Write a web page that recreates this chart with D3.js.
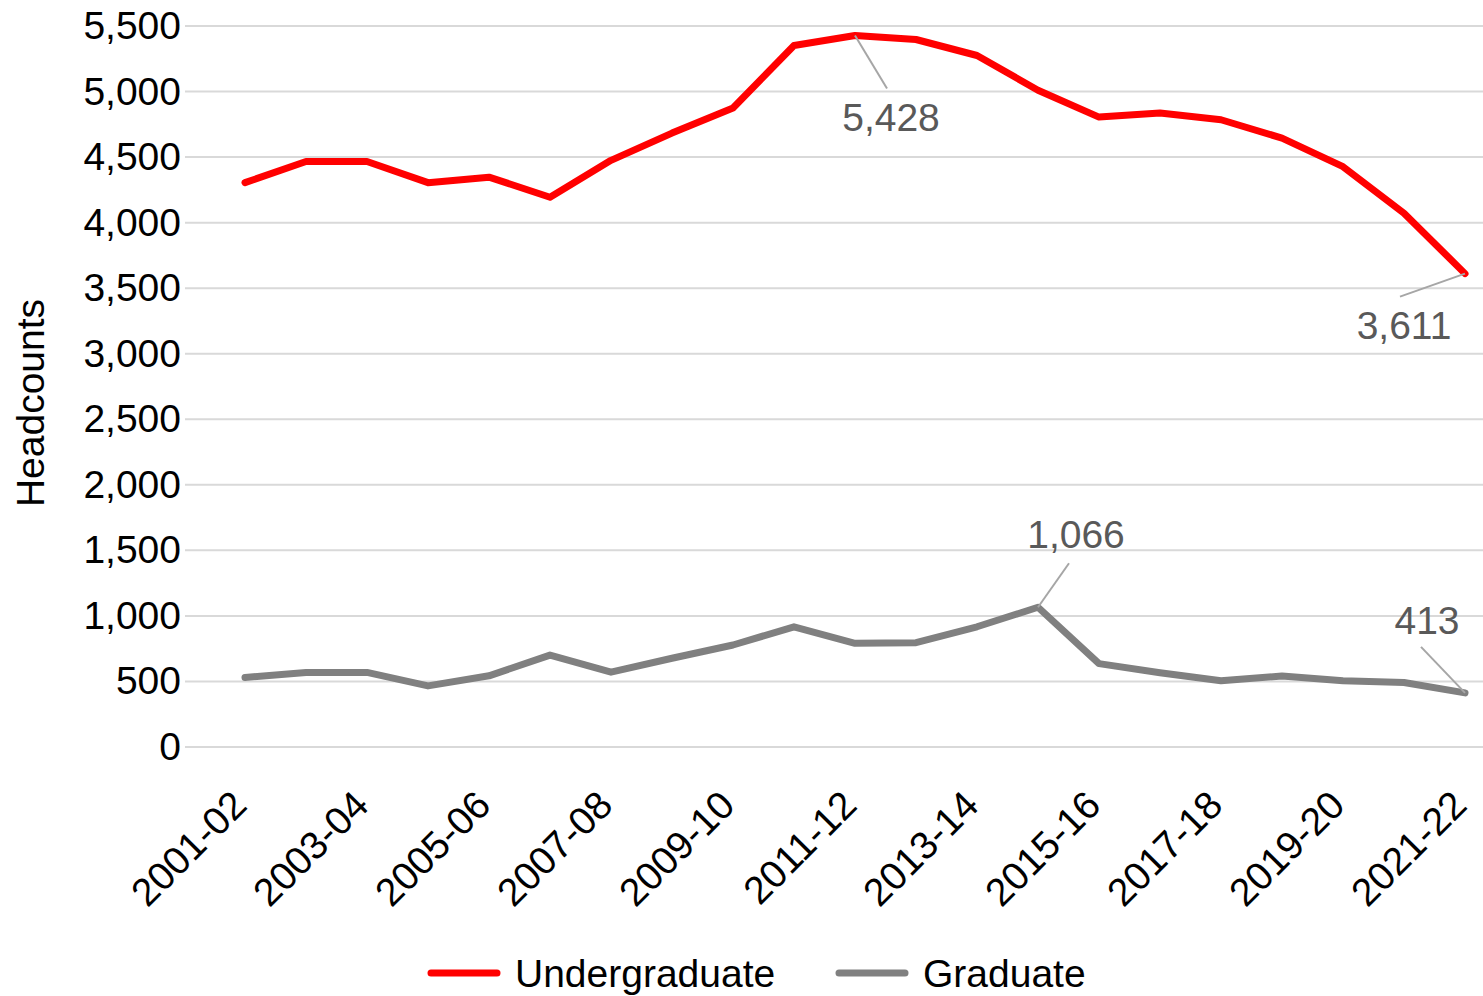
<!DOCTYPE html>
<html>
<head>
<meta charset="utf-8">
<script src="https://cdn.jsdelivr.net/npm/d3@7"></script>
<style>
  html, body { margin: 0; padding: 0; background: #fff; }
  svg { display: block; font-family: "Liberation Sans", Arial, sans-serif; }
</style>
</head>
<body>
<svg id="chart" width="1483" height="996"></svg>
<script>
const years = ['2001-02', '2002-03', '2003-04', '2004-05', '2005-06', '2006-07', '2007-08',
  '2008-09', '2009-10', '2010-11', '2011-12', '2012-13', '2013-14', '2014-15', '2015-16',
  '2016-17', '2017-18', '2018-19', '2019-20', '2020-21', '2021-22'];
const undergraduate = [4305, 4466, 4466, 4305, 4347, 4194, 4475, 4683, 4874, 5351, 5428,
  5397, 5275, 5010, 4805, 4836, 4785, 4645, 4427, 4072, 3611];
const graduate = [531, 569, 569, 466, 543, 701, 571, 677, 778, 917, 791,
  796, 917, 1066, 636, 567, 505, 542, 505, 492, 413];
const yTicks = [0, 500, 1000, 1500, 2000, 2500, 3000, 3500, 4000, 4500, 5000, 5500];
const xTickLabels = years.filter((d, i) => i % 2 === 0);

const series = [
  { name: 'Undergraduate', values: undergraduate, color: '#ff0000' },
  { name: 'Graduate', values: graduate, color: '#808080' }
];

// data callouts: which point, and where the label sits relative to it
const callouts = [
  { s: 0, i: 10, dx: 36, dy: 82, lx: 32, ly: 53 },
  { s: 0, i: 20, dx: -61, dy: 52, lx: -65, ly: 23 },
  { s: 1, i: 13, dx: 38, dy: -73, lx: 31, ly: -44 },
  { s: 1, i: 20, dx: -38, dy: -73, lx: -44, ly: -46 }
];

const svg = d3.select('#chart');
const fontSize = 39;

const x = d3.scalePoint().domain(years).range([245, 1465]);
const y = d3.scaleLinear().domain([0, 5500]).range([747, 26]);

// gridlines
svg.append('g')
  .selectAll('line')
  .data(yTicks)
  .join('line')
  .attr('x1', 185).attr('x2', 1483)
  .attr('y1', d => y(d)).attr('y2', d => y(d))
  .attr('stroke', '#d9d9d9')
  .attr('stroke-width', 2);

// y axis labels
const yAxis = svg.append('g')
  .attr('transform', 'translate(181,0)')
  .call(d3.axisLeft(y).tickValues(yTicks).tickSize(0).tickPadding(0).tickFormat(d3.format(',')));
yAxis.select('.domain').remove();
yAxis.selectAll('text')
  .attr('font-size', fontSize)
  .attr('font-family', '"Liberation Sans", Arial, sans-serif')
  .attr('fill', '#000');

svg.append('text')
  .attr('transform', 'translate(44,403) rotate(-90)')
  .attr('text-anchor', 'middle')
  .attr('font-size', fontSize)
  .attr('fill', '#000')
  .text('Headcounts');

// x axis labels
const xAxis = svg.append('g')
  .attr('transform', 'translate(0,768)')
  .call(d3.axisBottom(x).tickValues(xTickLabels).tickSize(0).tickPadding(0));
xAxis.select('.domain').remove();
xAxis.selectAll('text')
  .attr('font-size', fontSize)
  .attr('font-family', '"Liberation Sans", Arial, sans-serif')
  .attr('fill', '#000')
  .attr('text-anchor', 'end')
  .attr('dy', '0.7em')
  .attr('transform', 'translate(-16,20) rotate(-45)');

// lines
const line = d3.line()
  .x((d, i) => x(years[i]))
  .y(d => y(d));

svg.append('g')
  .selectAll('path')
  .data(series)
  .join('path')
  .attr('d', d => line(d.values))
  .attr('fill', 'none')
  .attr('stroke', d => d.color)
  .attr('stroke-width', 7)
  .attr('stroke-linejoin', 'round')
  .attr('stroke-linecap', 'round');

// callouts
const fmt = d3.format(',');
const cg = svg.append('g');
callouts.forEach(c => {
  const v = series[c.s].values[c.i];
  const px = x(years[c.i]);
  const py = y(v);
  cg.append('line')
    .attr('x1', px).attr('y1', py)
    .attr('x2', px + c.lx).attr('y2', py + c.ly)
    .attr('stroke', '#a6a6a6')
    .attr('stroke-width', 2);
  cg.append('text')
    .attr('x', px + c.dx)
    .attr('y', py + c.dy)
    .attr('dy', '0.35em')
    .attr('text-anchor', 'middle')
    .attr('font-size', fontSize)
    .attr('fill', '#595959')
    .text(fmt(v));
});

// legend
const legendItems = [
  { x: 428, s: series[0] },
  { x: 836, s: series[1] }
];
const lg = svg.append('g').attr('transform', 'translate(0,973)');
legendItems.forEach(l => {
  lg.append('line')
    .attr('x1', l.x + 3).attr('x2', l.x + 69)
    .attr('y1', 0).attr('y2', 0)
    .attr('stroke', l.s.color)
    .attr('stroke-width', 7)
    .attr('stroke-linecap', 'round');
  lg.append('text')
    .attr('x', l.x + 87)
    .attr('y', 0)
    .attr('dy', '0.35em')
    .attr('font-size', fontSize)
    .attr('fill', '#000')
    .text(l.s.name);
});
</script>
</body>
</html>
